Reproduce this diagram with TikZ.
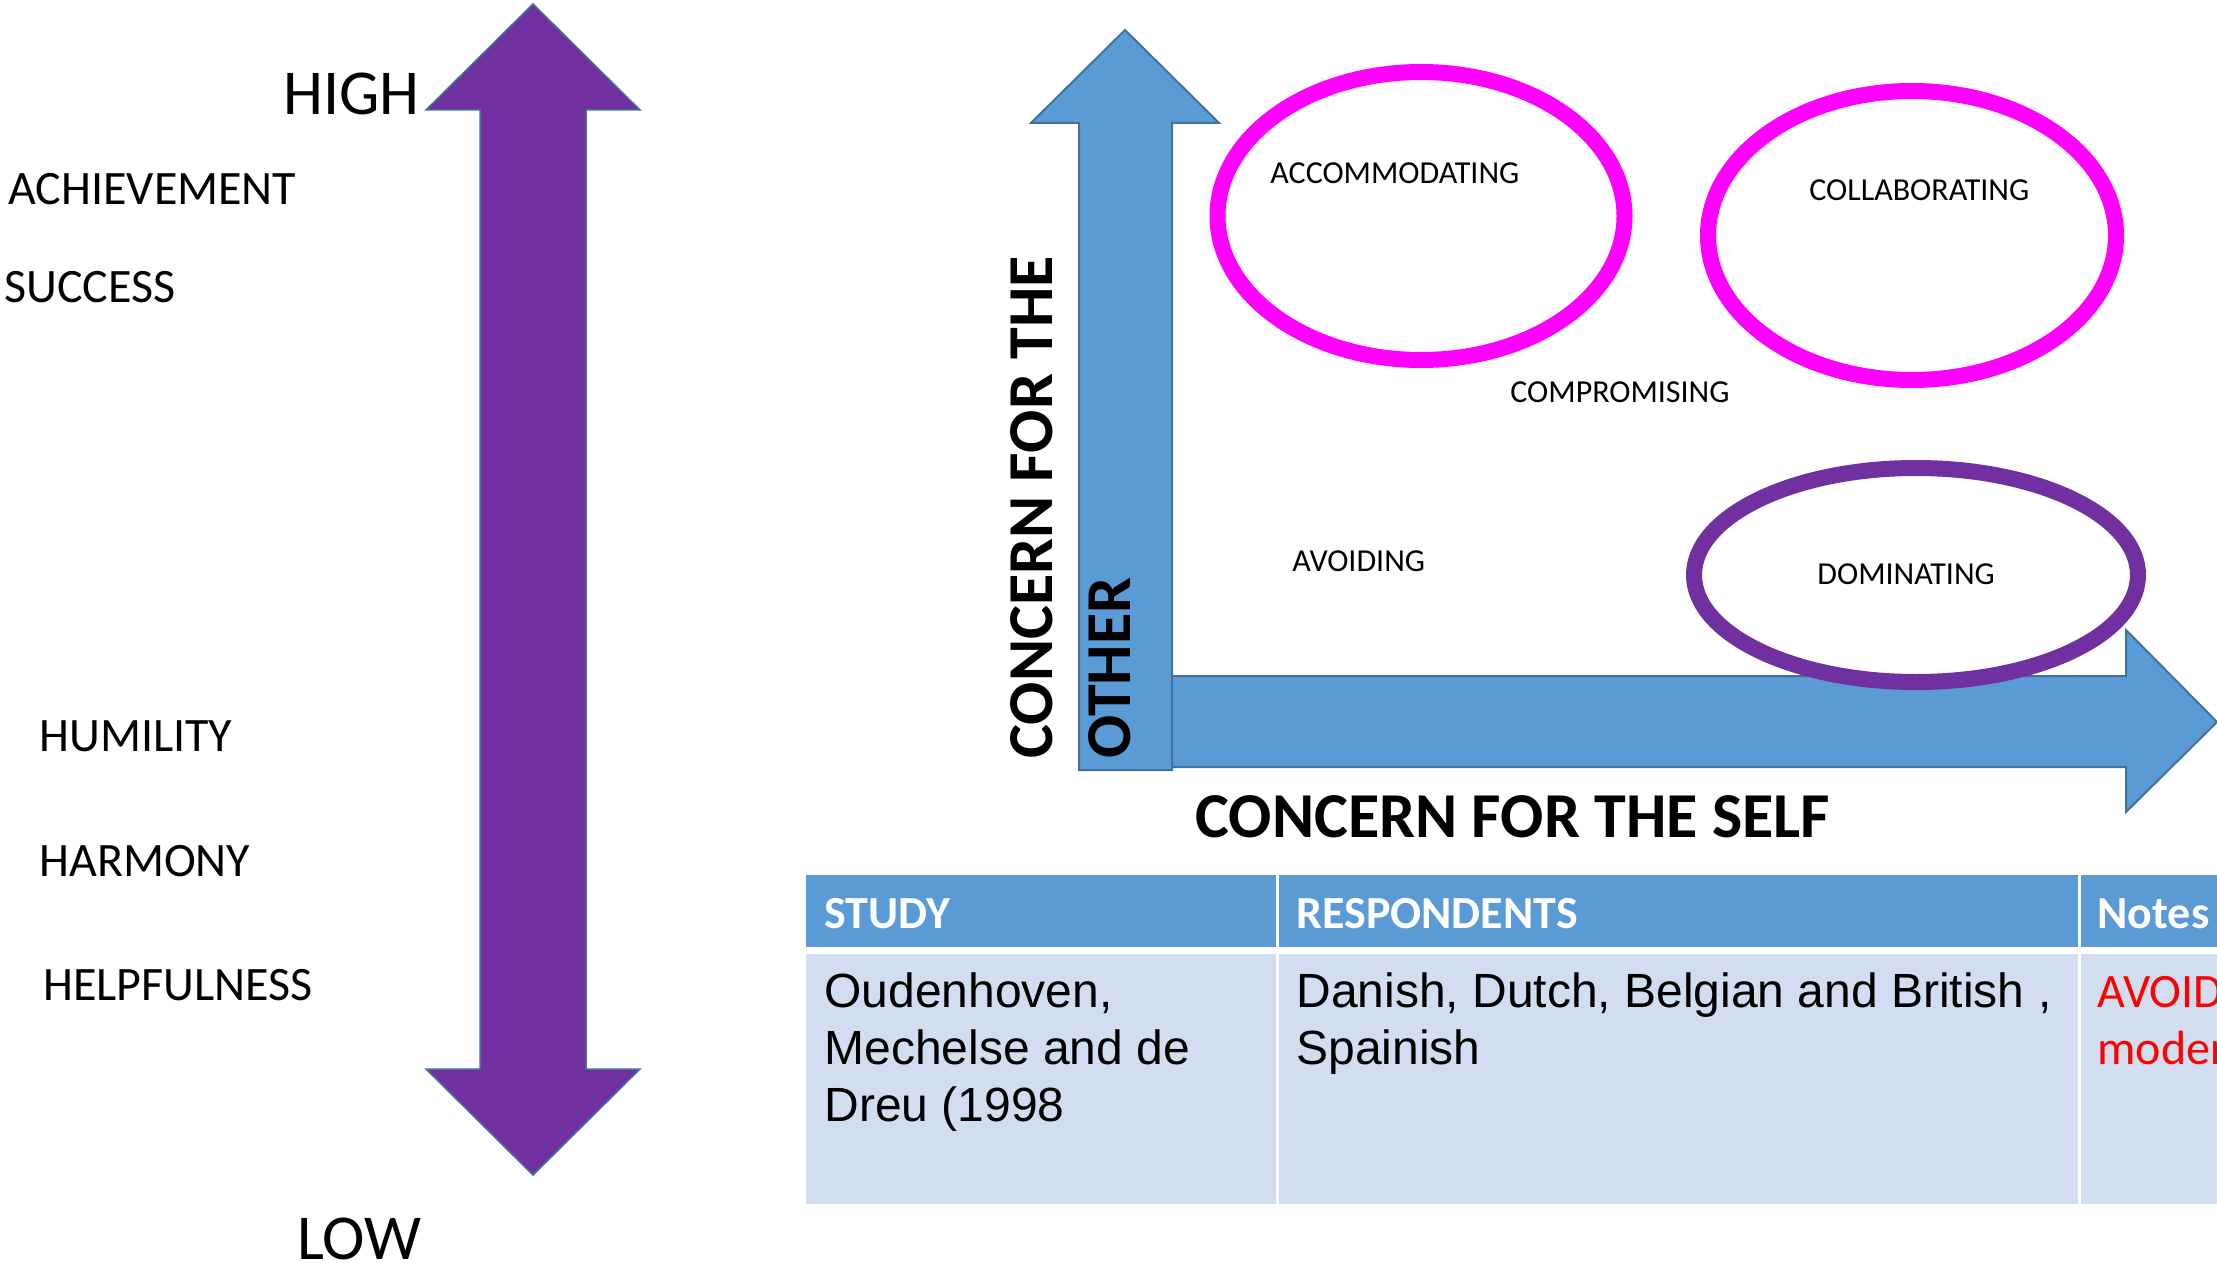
\documentclass[tikz,border=0pt]{standalone}
\usepackage{fontspec}
\setmainfont{Carlito}
\newfontfamily\arialfont{Liberation Sans}
\usetikzlibrary{positioning}

\definecolor{scalepurple}{HTML}{7030A0}
\definecolor{axisblue}{HTML}{5B9BD5}
\definecolor{axisedge}{HTML}{41719C}
\definecolor{ringpink}{HTML}{FF00FF}
\definecolor{cellblue}{HTML}{D2DEEF}

\begin{document}
\begin{tikzpicture}[
      x=0.5pt,
      y=-0.5pt,
      txt/.style={
          anchor=base west,
          inner sep=0pt
        },
      value/.style={
          txt,
          font=\fontsize{24}{29}\selectfont
        },
      level/.style={
          txt,
          font=\fontsize{32}{38}\selectfont
        },
      mode/.style={
          txt,
          font=\fontsize{16}{19}\selectfont
        },
      axistitle/.style={
          txt,
          font=\bfseries\fontsize{32}{39}\selectfont
        },
      head/.style={
          txt,
          text=white,
          font=\bfseries\fontsize{23}{28}\selectfont
        },
      cell/.style={
          txt,
          align=left,
          font=\arialfont\fontsize{24}{28.5}\selectfont
        },
      arrowbody/.style={
          draw=axisedge,
          line width=1pt,
          line join=miter
        },
      ring/.style={
          draw=ringpink,
          line width=8pt
        },
      >=latex
    ]
    \clip (0,0) rectangle (2217,1263);

    \filldraw[arrowbody, line width=0.75pt, fill=scalepurple]
      (533,4) -- (640,110) -- (586,110) -- (586,1069) -- (640,1069) -- (533,1175)
      -- (426,1069) -- (480,1069) -- (480,110) -- (426,110) -- cycle;
    \node[level] (high) at (283,115) {HIGH};
    \node[level] (low) at (297,1259) {LOW};
    \foreach \word/\xx/\yy [count=\wi] in {ACHIEVEMENT/8/205, SUCCESS/4/302,
        HUMILITY/39/751, HARMONY/39/876, HELPFULNESS/43/1000}
    \node[value] (value\wi) at (\xx,\yy) {\word};

    \filldraw[arrowbody, fill=axisblue]
      (1079,676) -- (2126,676) -- (2126,630) -- (2217,722) -- (2126,812)
      -- (2126,767) -- (1079,767) -- cycle;
    \filldraw[arrowbody, fill=axisblue]
      (1125,30) -- (1219,123) -- (1172,123) -- (1172,770) -- (1079,770)
      -- (1079,123) -- (1031,123) -- cycle;

    \draw[ring] (1421,216) ellipse [x radius=101.75pt, y radius=72pt];
    \draw[ring] (1912,235.5) ellipse [x radius=102pt, y radius=72.25pt];
    \draw[ring, draw=scalepurple] (1916,575) ellipse [x radius=111pt, y radius=53.5pt];

    \node[mode] (accommodating) at (1270,184) {ACCOMMODATING};
    \node[mode] (collaborating) at (1809,200) {COLLABORATING};
    \node[mode] (compromising) at (1510,402) {COMPROMISING};
    \node[mode] (avoiding) at (1292,571) {AVOIDING};
    \node[mode] (dominating) at (1817,584) {DOMINATING};

    \node[axistitle, rotate=90] (other1) at (1052,759) {CONCERN FOR THE};
    \node[axistitle, rotate=90] (other2) at (1130,759) {OTHER};
    \node[axistitle] (self) at (1195,837) {CONCERN FOR THE SELF};

    \foreach \xa/\xb in {806/1276, 1279/2078, 2081/2260}
      {\fill[axisblue] (\xa,875) rectangle (\xb,947);
       \fill[cellblue] (\xa,954) rectangle (\xb,1204);}
    \node[head] (study) at (824,928) {STUDY};
    \node[head] (respondents) at (1296,928) {RESPONDENTS};
    \node[head] (notes) at (2097,928) {Notes};
    \node[cell] (studycell) at (824,1121) {Oudenhoven,\\Mechelse and de\\Dreu (1998};
    \node[cell] (respcell) at (1296,1064) {Danish, Dutch, Belgian and British ,\\Spainish};
    \node[cell, text=red, font=\fontsize{24}{28.5}\selectfont] (notecell) at (2097,1064) {AVOID\\moder};
  \end{tikzpicture}
\end{document}
